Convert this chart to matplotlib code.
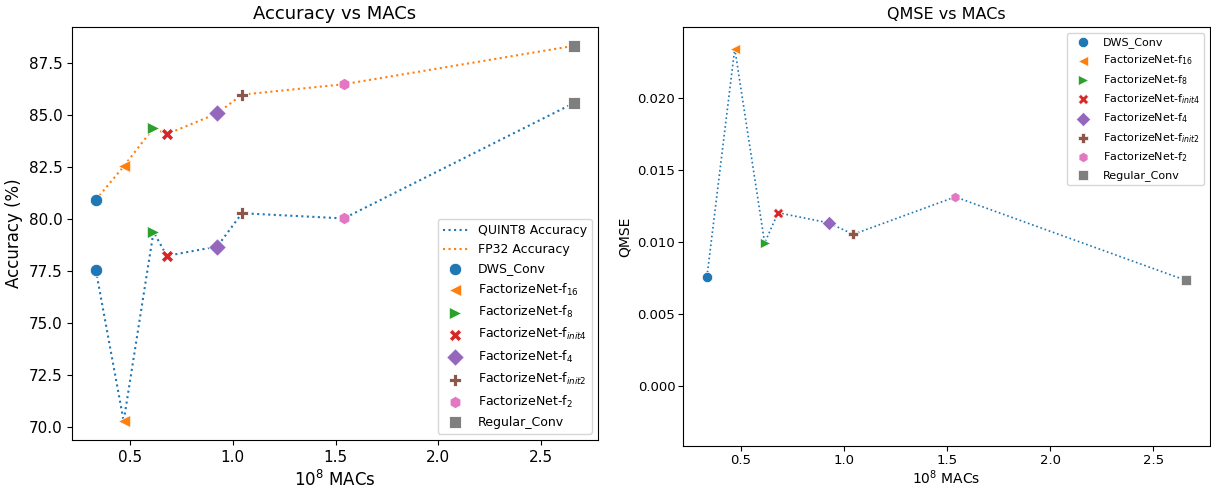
import numpy as np
import matplotlib.pyplot as plt

# data
models = ['DWS_Conv', r'FactorizeNet-f$_{16}$', r'FactorizeNet-f$_{8}$',
          r'FactorizeNet-f$_{init4}$', r'FactorizeNet-f$_{4}$',
          r'FactorizeNet-f$_{init2}$', r'FactorizeNet-f$_{2}$', 'Regular_Conv']
macs = [0.335, 0.47, 0.615, 0.68, 0.925, 1.045, 1.54, 2.66]
quint8_acc = [77.55, 70.3, 79.4, 78.25, 78.7, 80.3, 80.05, 85.6]
fp32_acc = [80.95, 82.55, 84.4, 84.1, 85.1, 86.0, 86.5, 88.35]
qmse = [0.00755, 0.0234, 0.0099, 0.0120, 0.0113, 0.0105, 0.0131, 0.0073]

markers = ['o', '<', '>', 'X', 'D', 'P', 'h', 's']
colors = plt.rcParams['axes.prop_cycle'].by_key()['color']

fig = plt.figure(figsize=(12.11, 4.88), dpi=100)

# left: accuracy
ax1 = fig.add_axes([72/1211, 1-440/488, 526/1211, 413/488])
ax1.plot(macs, quint8_acc, ':', color=colors[0], lw=1.5, label='QUINT8 Accuracy')
ax1.plot(macs, fp32_acc, ':', color=colors[1], lw=1.5, label='FP32 Accuracy')
for i in range(len(models)):
    ax1.scatter(macs[i], quint8_acc[i], marker=markers[i], color=colors[i], s=80,
                edgecolor='white', linewidth=0.6, zorder=3, label=models[i])
    ax1.scatter(macs[i], fp32_acc[i], marker=markers[i], color=colors[i], s=80,
                edgecolor='white', linewidth=0.6, zorder=3)
ax1.set_title('Accuracy vs MACs', fontsize=13)
ax1.set_xlabel('10$^8$ MACs', fontsize=12)
ax1.set_ylabel('Accuracy (%)', fontsize=12)
ax1.set_xticks([0.5, 1.0, 1.5, 2.0, 2.5])
ax1.tick_params(labelsize=11)
ax1.legend(loc='lower right', fontsize=9)

# right: QMSE
ax2 = fig.add_axes([683/1211, 1-446/488, 527/1211, 419/488])
ax2.plot(macs, qmse, ':', color=colors[0], lw=1.2)
for i in range(len(models)):
    ax2.scatter(macs[i], qmse[i], marker=markers[i], color=colors[i], s=55,
                edgecolor='white', linewidth=0.5, zorder=3, label=models[i])
ax2.set_ylim(-0.0042, 0.0249)
ax2.set_xticks([0.5, 1.0, 1.5, 2.0, 2.5])
ax2.set_title('QMSE vs MACs', fontsize=11.5)
ax2.set_xlabel('10$^8$ MACs', fontsize=10, labelpad=1)
ax2.set_ylabel('QMSE', fontsize=10)
ax2.tick_params(labelsize=9.5, pad=2)
ax2.legend(loc='upper right', fontsize=8)

fig.savefig('out.png', dpi=100)
